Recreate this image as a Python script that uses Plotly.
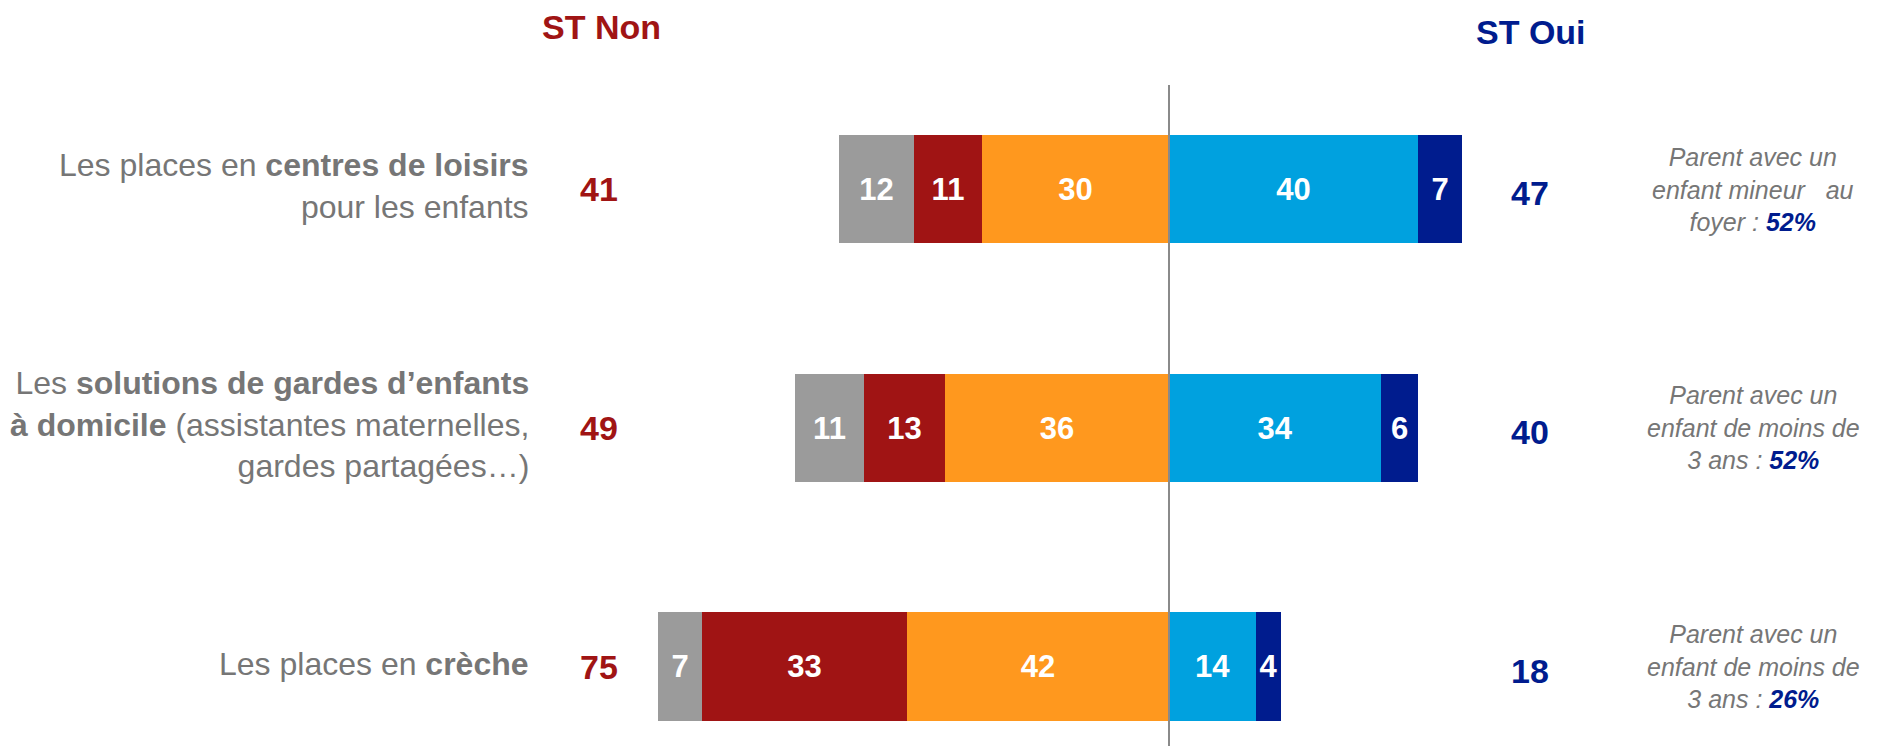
import plotly.graph_objects as go

# ---- data ----
categories = [
    "Les places en <b>centres de loisirs</b><br>pour les enfants",
    "Les <b>solutions de gardes d’enfants</b><br><b>à domicile</b> (assistantes maternelles,<br>gardes partagées…)",
    "Les places en <b>crèche</b>",
]
nsp = [12, 11, 7]
non_pas_du_tout = [11, 13, 33]
non_plutot = [30, 36, 42]
oui_plutot = [40, 34, 14]
oui_tout = [7, 6, 4]
st_non = [41, 49, 75]
st_oui = [47, 40, 18]
note_lines = [
    "Parent avec un<br>enfant mineur\u00a0\u00a0\u00a0au<br>foyer : ",
    "Parent avec un<br>enfant de moins de<br>3 ans : ",
    "Parent avec un<br>enfant de moins de<br>3 ans : ",
]
note_pct = ["52%", "52%", "26%"]

# ---- styles ----
FONT = "Liberation Sans, Arial, sans-serif"
GREY_BAR = "#9B9B9B"
RED = "#A01414"
ORANGE = "#FF981E"
LBLUE = "#00A1DF"
NAVY = "#001C8E"
TXT = "#767676"

OFF = 8  # page body margin compensation
W, H = 1877 - 2 * OFF, 754 - 2 * OFF
X0_PX = 1169.0 - OFF
PXU = 6.23
xr = [-X0_PX / PXU, (W - X0_PX) / PXU]
Y0_PX = 189.0 - OFF
STEP = 238.75
yr = [2 + (H - (666.5 - OFF)) / STEP, -Y0_PX / STEP]

def px(p):
    return (p - OFF - X0_PX) / PXU

def py(p):
    return (p - OFF - Y0_PX) / STEP

ypos = list(range(len(categories)))

fig = go.Figure()
series = [
    ([-v for v in non_plutot], non_plutot, ORANGE),
    ([-v for v in non_pas_du_tout], non_pas_du_tout, RED),
    ([-v for v in nsp], nsp, GREY_BAR),
    (oui_plutot, oui_plutot, LBLUE),
    (oui_tout, oui_tout, NAVY),
]
for vals, labels, col in series:
    fig.add_trace(go.Bar(
        x=vals, y=ypos, orientation="h", width=0.454,
        marker=dict(color=col, line=dict(width=0)),
        text=[str(v) for v in labels], textposition="inside",
        insidetextanchor="middle", textangle=0, constraintext="none",
        textfont=dict(family=FONT, size=31, color="white", weight="bold"),
        hoverinfo="skip", showlegend=False,
    ))

fig.update_layout(
    barmode="relative", width=W, height=H,
    margin=dict(l=0, r=0, t=0, b=0),
    paper_bgcolor="white", plot_bgcolor="white",
    xaxis=dict(range=xr, visible=False, fixedrange=True),
    yaxis=dict(range=yr, visible=False, fixedrange=True),
    bargap=0,
)

# zero line
fig.add_shape(type="line", x0=0, x1=0, y0=py(85), y1=yr[0], xref="x", yref="y",
              line=dict(color="#8A8A8A", width=2))

ann = []
ann.append(dict(x=px(601), y=py(27), text="<b>ST Non</b>",
                font=dict(family=FONT, size=34, color=RED)))
ann.append(dict(x=px(1531), y=py(32), text="<b>ST Oui</b>",
                font=dict(family=FONT, size=34, color=NAVY)))
for i, cat in enumerate(categories):
    ann.append(dict(x=px(531), y=i, text=cat, xanchor="right", align="right",
                    yshift=3, font=dict(family=FONT, size=32, color=TXT)))
    ann.append(dict(x=px(598.5), y=i, text="<b>%d</b>" % st_non[i],
                    font=dict(family=FONT, size=34, color=RED)))
    ann.append(dict(x=px(1530), y=i, text="<b>%d</b>" % st_oui[i], yshift=-4,
                    font=dict(family=FONT, size=34, color=NAVY)))
    ann.append(dict(x=px(1753), y=i,
                    text="<i>" + note_lines[i] + "<span style='color:%s'><b>%s</b></span></i>" % (NAVY, note_pct[i]),
                    align="center", font=dict(family=FONT, size=25, color=TXT)))
for a in ann:
    a.setdefault("xanchor", "center")
    a.update(xref="x", yref="y", showarrow=False, yanchor="middle")
fig.update_layout(annotations=ann)

fig.write_html("out.html")
